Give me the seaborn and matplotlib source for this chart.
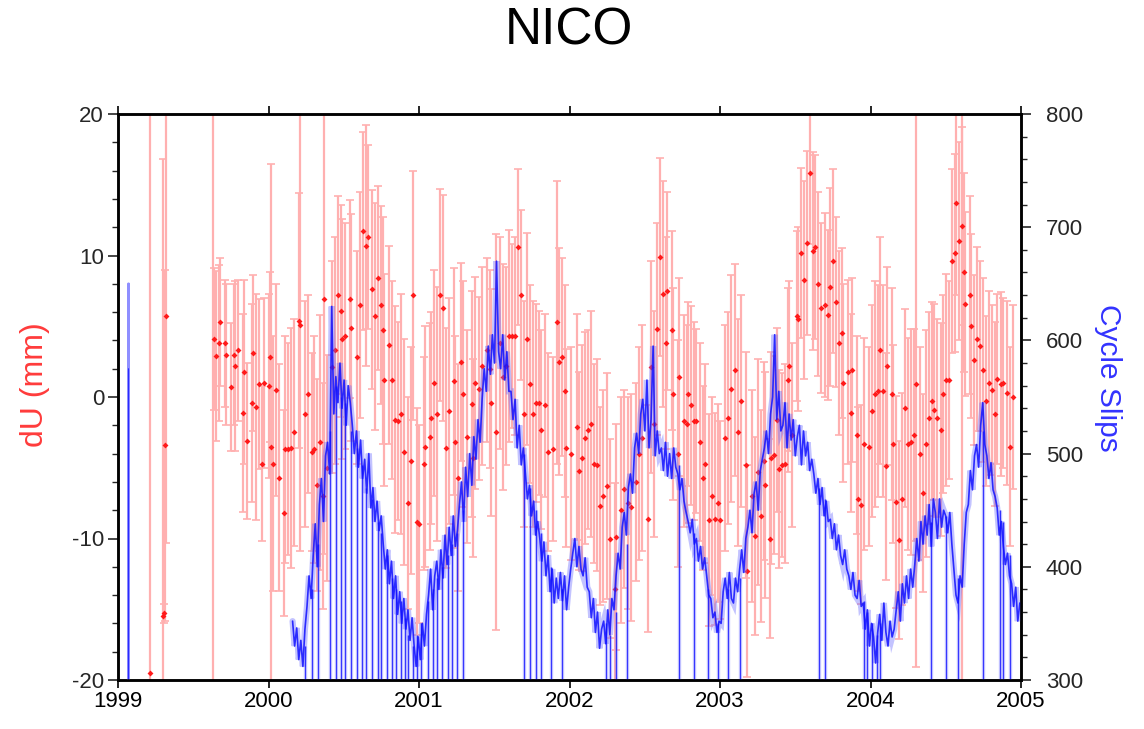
import numpy as np
import matplotlib
matplotlib.use("Agg")
import matplotlib.pyplot as plt
from matplotlib.ticker import MultipleLocator
import seaborn as sns

# ---------------- data: dU (mm) weekly solutions ----------------
du_year = [
    1999.21, 1999.30, 1999.305, 1999.315, 1999.32, 1999.63, 1999.64, 1999.65, 1999.67, 1999.68,
    1999.71, 1999.72, 1999.75, 1999.77, 1999.78, 1999.80, 1999.83, 1999.84, 1999.86, 1999.89,
    1999.90, 1999.92, 1999.94, 1999.96, 1999.97, 2000.00, 2000.01, 2000.015, 2000.03, 2000.05,
    2000.07, 2000.10, 2000.11, 2000.13, 2000.15, 2000.17, 2000.20, 2000.21, 2000.24, 2000.26,
    2000.29, 2000.30, 2000.32, 2000.34, 2000.36, 2000.37, 2000.39, 2000.42, 2000.44, 2000.46,
    2000.48, 2000.49, 2000.51, 2000.54, 2000.55, 2000.59, 2000.61, 2000.63, 2000.65, 2000.66,
    2000.69, 2000.71, 2000.73, 2000.75, 2000.76, 2000.77, 2000.80, 2000.82, 2000.84, 2000.86,
    2000.88, 2000.90, 2000.93, 2000.95, 2000.96, 2000.99, 2001.00, 2001.03, 2001.04, 2001.07,
    2001.08, 2001.10, 2001.12, 2001.14, 2001.16, 2001.18, 2001.20, 2001.23, 2001.24, 2001.26,
    2001.28, 2001.29, 2001.32, 2001.35, 2001.36, 2001.37, 2001.40, 2001.42, 2001.45, 2001.47,
    2001.48, 2001.51, 2001.54, 2001.56, 2001.58, 2001.60, 2001.62, 2001.64, 2001.66, 2001.68,
    2001.70, 2001.72, 2001.74, 2001.76, 2001.78, 2001.80, 2001.81, 2001.84, 2001.86, 2001.89,
    2001.92, 2001.93, 2001.95, 2001.97, 2001.98, 2002.01, 2002.05, 2002.06, 2002.08, 2002.10,
    2002.12, 2002.14, 2002.16, 2002.18, 2002.20, 2002.22, 2002.25, 2002.27, 2002.30, 2002.31,
    2002.34, 2002.36, 2002.39, 2002.41, 2002.44, 2002.46, 2002.48, 2002.52, 2002.54, 2002.56,
    2002.58, 2002.60, 2002.62, 2002.64, 2002.65, 2002.68, 2002.69, 2002.72, 2002.73, 2002.76,
    2002.78, 2002.79, 2002.81, 2002.83, 2002.84, 2002.87, 2002.89, 2002.90, 2002.93, 2002.95,
    2002.97, 2002.99, 2003.00, 2003.03, 2003.05, 2003.07, 2003.10, 2003.12, 2003.14, 2003.17,
    2003.18, 2003.21, 2003.23, 2003.25, 2003.27, 2003.29, 2003.30, 2003.33, 2003.34, 2003.36,
    2003.38, 2003.39, 2003.41, 2003.43, 2003.45, 2003.46, 2003.48, 2003.51, 2003.52, 2003.54,
    2003.56, 2003.58, 2003.60, 2003.62, 2003.63, 2003.65, 2003.67, 2003.70, 2003.72, 2003.73,
    2003.75, 2003.77, 2003.79, 2003.81, 2003.82, 2003.85, 2003.87, 2003.88, 2003.91, 2003.92,
    2003.94, 2003.96, 2003.99, 2004.01, 2004.03, 2004.05, 2004.06, 2004.08, 2004.10, 2004.11,
    2004.14, 2004.15, 2004.17, 2004.19, 2004.21, 2004.23, 2004.25, 2004.27, 2004.29, 2004.30,
    2004.33, 2004.35, 2004.37, 2004.39, 2004.41, 2004.42, 2004.44, 2004.47, 2004.48, 2004.50,
    2004.52, 2004.54, 2004.56, 2004.57, 2004.59, 2004.605, 2004.61, 2004.62, 2004.63, 2004.66,
    2004.67, 2004.69, 2004.71, 2004.73, 2004.75, 2004.77, 2004.79, 2004.81, 2004.83, 2004.84,
    2004.87, 2004.88, 2004.91, 2004.93, 2004.95,
]
du_mm = [
    -19.5, -15.5, -15.3, -3.4, 5.7, 23.0, 4.1, 2.9, 3.8, 5.3,
    3.8, 3.0, 0.7, 3.0, 2.2, 3.3, -1.1, 1.8, -3.1, -0.4,
    3.1, -0.7, 0.9, -4.7, 1.0, 0.8, 2.8, -3.5, -4.7, 0.5,
    -5.7, -8.2, -3.7, -3.7, -3.6, -2.5, 5.4, 5.1, -1.2, 0.2,
    -3.9, -3.7, -6.2, -3.2, -7.0, 6.9, -5.0, 2.1, 3.3, 7.2,
    6.1, 4.1, 4.3, 6.9, 4.9, 2.8, 6.5, 11.7, 10.7, 11.3,
    7.6, 5.7, 8.4, 6.5, 4.7, 1.2, 3.7, 1.2, -1.6, -1.7,
    -1.2, -3.9, -7.5, -4.5, 7.2, -8.8, -9.0, -4.7, -3.5, -2.8,
    -1.5, 1.0, -1.2, 7.2, 6.3, -3.6, -1.0, 1.1, -3.2, -5.7,
    2.5, 0.2, -2.8, -0.5, -4.3, 1.0, 0.6, 2.2, 3.3, 2.0,
    -0.4, -2.5, 3.8, 1.4, 2.2, 4.3, 4.3, 4.3, 10.6, 7.2,
    -1.2, 4.1, 0.9, -1.2, -0.4, -0.4, -2.3, -0.6, -3.9, -3.7,
    5.3, 2.5, 2.8, 0.4, -3.6, -4.0, -2.1, -5.2, -4.3, -2.9,
    -2.3, -1.9, -4.7, -4.8, -7.7, -7.0, -6.3, -10.0, -13.6, -9.9,
    -8.0, -6.5, -7.5, -7.8, -6.0, -4.0, -2.9, -8.6, 2.1, -1.9,
    4.8, 9.9, 7.3, 3.8, 7.5, 4.7, 0.2, -4.0, 1.4, -1.7,
    -1.9, 0.2, -0.6, -1.7, -1.7, -3.2, -5.7, -4.7, -8.7, -7.0,
    -8.6, -7.5, -8.7, -2.9, -1.5, 0.6, 1.9, -2.5, -0.3, -4.8,
    -12.3, -7.0, -9.8, -5.3, -8.4, -4.5, -6.2, -10.0, -4.3, -4.1,
    -1.6, -5.1, -4.8, -4.7, 1.2, 2.2, -2.7, 5.7, 5.5, 10.2,
    8.3, 10.9, 15.8, 10.3, 10.6, 8.0, 6.3, 6.5, 5.8, 7.8,
    9.6, 6.7, 3.8, 4.5, 1.0, 1.8, -1.1, 1.9, -2.7, -7.2,
    -7.6, -3.3, -3.5, -1.0, 0.2, 0.4, 3.3, 0.4, -4.9, 2.2,
    0.2, -3.3, -7.4, -10.1, -7.2, -0.8, -3.3, -3.2, -2.7, 0.9,
    -4.0, -6.8, -3.3, -1.5, -0.3, -0.9, -1.5, -2.3, 0.2, 1.2,
    1.2, 9.6, 10.2, 13.7, 11.0, -22.0, 12.1, 8.8, 6.6, 7.2,
    5.0, 2.6, 4.1, 3.6, 1.9, -0.3, 1.0, 0.5, -1.2, 1.3,
    0.9, 1.0, 0.3, -3.5, 0.0,
]
du_err = [
    42, 32.3, 0.7, 12.4, 16, 45, 5.0, 6.0, 5.5, 4.5,
    4.5, 5.0, 4.5, 5.0, 6.0, 5.0, 7.0, 6.5, 5.5, 7.0,
    5.5, 8.0, 6.0, 5.5, 6.0, 6.5, 6.0, 20, 9.0, 7.5,
    8.0, 7.3, 8.0, 7.5, 8.5, 8.0, 9.0, 16, 8.0, 7.0,
    7.0, 8.0, 7.5, 9.0, 8.0, 18, 8.0, 7.5, 8.0, 7.0,
    7.5, 8.5, 8.0, 7.0, 8.0, 7.5, 8.0, 7.0, 8.5, 6.5,
    7.0, 8.0, 6.5, 7.0, 8.0, 7.5, 7.0, 7.0, 8.0, 7.0,
    8.5, 8.0, 7.5, 8.0, 8.8, 8.0, 7.0, 7.5, 8.5, 8.0,
    7.5, 8.0, 9.0, 7.5, 8.0, 8.5, 8.0, 8.0, 7.5, 8.0,
    7.0, 8.0, 7.5, 8.0, 7.0, 7.5, 6.5, 7.0, 6.5, 7.0,
    8.0, 14, 7.5, 8.0, 7.0, 7.5, 6.5, 7.0, 5.5, 6.0,
    8.0, 7.5, 7.0, 8.0, 7.0, 6.5, 7.0, 6.5, 7.0, 6.5,
    10.0, 8.0, 7.0, 7.5, 7.0, 7.5, 8.0, 7.0, 8.0, 7.5,
    7.0, 8.0, 7.0, 7.5, 7.0, 7.5, 8.0, 7.0, 7.5, 8.0,
    8.0, 7.0, 7.5, 8.0, 7.0, 7.5, 8.0, 8.0, 7.5, 8.0,
    7.5, 7.0, 8.0, 7.5, 7.0, 7.0, 7.5, 8.0, 7.0, 7.5,
    7.0, 6.5, 7.0, 7.0, 6.5, 7.0, 6.5, 7.0, 7.5, 7.0,
    7.5, 7.0, 7.0, 8.0, 7.5, 8.0, 7.5, 8.0, 7.5, 8.0,
    7.5, 7.5, 7.0, 8.0, 7.5, 7.0, 8.0, 7.0, 7.5, 7.0,
    6.5, 7.0, 6.5, 7.0, 6.5, 6.0, 6.5, 6.0, 6.5, 6.0,
    7.0, 6.5, 5.0, 7.0, 6.5, 6.5, 6.0, 6.5, 6.0, 7.0,
    6.5, 6.0, 6.5, 6.0, 7.0, 6.5, 7.0, 6.5, 7.0, 6.5,
    7.0, 7.5, 7.0, 7.5, 8.0, 7.5, 8.0, 7.5, 8.0, 7.0,
    7.5, 7.0, 7.5, 7.0, 7.5, 7.0, 7.5, 8.0, 7.5, 20,
    7.5, 7.0, 8.0, 7.5, 7.0, 7.5, 7.0, 7.5, 7.0, 7.5,
    7.0, 6.5, 7.0, 6.5, 7.0, 45, 7.0, 7.0, 6.5, 7.0,
    6.5, 6.0, 6.5, 6.0, 6.5, 6.0, 6.5, 6.0, 6.5, 6.0,
    6.5, 6.0, 6.5, 7.0, 6.5,
]

# ---------------- data: cycle slips (5-day samples from 2000.16) ----------------
cs_start = 2000.16
cs_step_days = 5
cs_count = [
    352, 330, 346, 318, 335, 312, 345, 365, 392, 372,
    410, 438, 400, 455, 478, 440, 498, 510, 482,
    630, 535, 568, 545, 580, 540, 565, 525, 560, 545,
    525, 500, 520, 488, 512, 478, 495, 465, 500, 452, 470, 440, 458, 432, 445,
    420, 398, 415, 385, 405, 372, 392, 358, 378, 350, 372, 345, 362, 335, 355,
    330, 312, 338, 318, 350, 330, 358,
    375, 398, 362, 392, 405, 380, 415, 390, 428, 402, 435, 410, 445, 418, 432,
    455, 475, 440, 488, 462, 500, 472, 515, 495, 530, 510,
    548, 575, 555, 595, 570, 605, 580,
    670, 590, 575, 605, 565, 590, 555,
    555, 530, 548, 505, 525, 490, 505,
    482, 460, 472, 445, 458, 428, 440,
    425, 405, 422, 392, 410, 378, 398, 368, 390, 372, 395, 370, 392, 362, 382,
    398, 412, 425, 400, 418, 398, 392, 408, 382,
    378, 355, 372, 342, 360, 328, 345, 352, 332, 362, 340, 372, 362,
    392, 412, 398, 435, 448, 428, 470, 482, 465, 505, 518, 500, 535,
    548, 520, 565, 505, 530, 595, 498, 520, 500,
    505, 485, 510, 480, 500, 478, 505, 488, 482, 468, 478,
    458, 448, 440, 430, 442, 420, 425, 405, 418, 398, 408,
    392, 375, 372, 355, 360, 342, 352, 350,
    378, 390, 372, 395, 372, 368, 390, 378,
    398, 415, 395, 425, 435, 450, 430, 465, 475, 450, 485, 495,
    505, 520, 500, 535, 550, 605, 530, 555, 520,
    525, 545, 505, 535, 512, 530, 498,
    515, 525, 490, 520, 498, 510, 485, 495,
    482, 465, 478, 455, 470, 445, 458, 440,
    442, 425, 438, 415, 428, 410, 402, 415,
    398, 392, 380, 395, 375, 372, 388, 365,
    368, 345, 362, 330, 350, 338, 315, 342,
    358, 335, 368, 342, 330, 352, 338, 345,
    362, 378, 352, 385, 368, 392, 372, 398, 382,
    402, 425, 405, 440, 420, 445, 428, 455, 418, 460,
    448, 425, 460, 435, 450, 445, 430, 448, 420,
    398, 375, 368, 392, 382,
    420, 448, 455, 485, 468, 498, 508, 488,
    525, 545, 508,
    498, 478, 492, 468, 462,
    452, 428, 440, 418, 402, 412, 392,
    385, 365, 382, 352, 368,
]
# single-day drops of the cycle-slip count (date, level it falls from)
drop_year = [
    2000.24, 2000.29, 2000.33, 2000.41, 2000.45, 2000.48, 2000.51, 2000.55, 2000.59, 2000.62,
    2000.65, 2000.69, 2000.73, 2000.75, 2000.79, 2000.82, 2000.85, 2000.88, 2000.91, 2000.93,
    2000.96, 2000.99, 2001.01, 2001.06, 2001.09, 2001.12, 2001.15, 2001.19, 2001.22, 2001.25,
    2001.29, 2001.70, 2001.74, 2001.78, 2001.81, 2001.88, 2001.95, 2002.24, 2002.27, 2002.31,
    2002.38, 2002.73, 2002.83, 2002.92, 2002.99, 2003.05, 2003.13, 2003.66, 2003.70, 2003.96,
    2003.98, 2004.01, 2004.04, 2004.06, 2004.40, 2004.50, 2004.58, 2004.75, 2004.86, 2004.88,
    2004.93,
]
drop_top = [
    330, 380, 420, 520, 560, 550, 545, 520, 505, 490,
    470, 460, 440, 430, 410, 390, 380, 370, 355, 340,
    330, 340, 350, 370, 380, 390, 400, 410, 420, 430,
    450, 500, 470, 450, 430, 400, 380, 350, 340, 360,
    420, 490, 430, 380, 350, 380, 390, 470, 460, 370,
    360, 350, 340, 350, 440, 445, 390, 520, 450, 440,
    410,
]
drop_floor = 250
spike_year = [1999.0695, 1999.0700, 1999.0705]
spike_count = [250, 650, 250]

year_ticks = [1999, 2000, 2001, 2002, 2003, 2004, 2005]
du_ticks = [-20, -10, 0, 10, 20]
cs_ticks = [300, 400, 500, 600, 700, 800]

# ---------------- style ----------------
sns.set_theme(style="ticks")
plt.rcParams["font.family"] = ["Liberation Sans", "DejaVu Sans"]

W, H = 1144, 729
fig = plt.figure(figsize=(W / 100, H / 100), dpi=100)
ax = fig.add_axes([118 / W, 1 - 680 / H, (1021 - 118) / W, (680 - 114) / H])

cs_year = cs_start + np.arange(len(cs_count)) * cs_step_days / 365.25

ax.errorbar(du_year, du_mm, yerr=du_err, fmt="none", ecolor="#ffb0b0",
            elinewidth=1.6, capsize=3.0, capthick=1.2, zorder=2)
sns.scatterplot(x=du_year, y=du_mm, ax=ax, color="#ff1a1a", marker="D",
                s=9, linewidth=0, zorder=3, legend=False)
ax.set_xlim(1999, 2005)
ax.set_ylim(-20, 20)

ax2 = ax.twinx()
ax2.vlines(drop_year, drop_floor, drop_top, color="#8080ff", lw=2.5, alpha=0.35, zorder=1)
ax2.plot(cs_year, cs_count, color="#6a6aff", lw=4.5, alpha=0.4, zorder=1,
         solid_joinstyle="miter")
ax2.vlines(drop_year, drop_floor, drop_top, color="#1010ff", lw=0.9, alpha=0.8, zorder=2)
sns.lineplot(x=cs_year, y=cs_count, ax=ax2, color="#1010ff", lw=1.2,
             alpha=0.85, estimator=None, sort=False, zorder=2)
ax2.plot(spike_year, spike_count, color="#8f8fff", lw=2.0, zorder=1)
ax2.plot(spike_year[:2], [spike_count[0], 575], color="#2a2aff", lw=0.8)
ax2.set_ylim(300, 800)
ax2.set_xlim(1999, 2005)

# ticks
ax.set_xticks(year_ticks)
ax.set_xticklabels([str(y) for y in year_ticks])
ax.set_yticks(du_ticks)
ax.set_yticklabels([str(v) for v in du_ticks])
ax.yaxis.set_minor_locator(MultipleLocator(2))
ax.tick_params(axis="x", which="major", direction="out", length=6, width=1.2,
               top=True, bottom=True, labelsize=16, pad=2, colors="black")
ax.tick_params(axis="y", which="major", direction="out", length=7, width=1.2,
               left=True, right=False, labelsize=16, pad=3)
ax.tick_params(axis="y", which="minor", direction="out", length=4, width=1.0, left=True)
ax2.set_yticks(cs_ticks)
ax2.set_yticklabels([str(v) for v in cs_ticks])
ax2.yaxis.set_minor_locator(MultipleLocator(20))
ax2.tick_params(axis="y", which="major", direction="out", length=7, width=1.2,
                right=True, left=False, labelsize=16, pad=11)
ax2.tick_params(axis="y", which="minor", direction="out", length=4, width=1.0, right=True)
ax2.set_ylabel("")
ax.set_ylabel("")
ax.set_xlabel("")
for a in (ax, ax2):
    for s in a.spines.values():
        s.set_visible(True)
        s.set_linewidth(1.8)
        s.set_color("black")

fig.text(0.497, 1 - 31 / H, "NICO", ha="center", va="center", fontsize=37, color="black")
fig.text(35 / W, 1 - 385 / H, "dU (mm)", ha="center", va="center", rotation=90,
         fontsize=23, color="#ff3b3b")
fig.text(1108 / W, 1 - 378 / H, "Cycle Slips", ha="center", va="center", rotation=270,
         fontsize=21.5, color="#3333ff")

fig.savefig("out.png", dpi=100)
